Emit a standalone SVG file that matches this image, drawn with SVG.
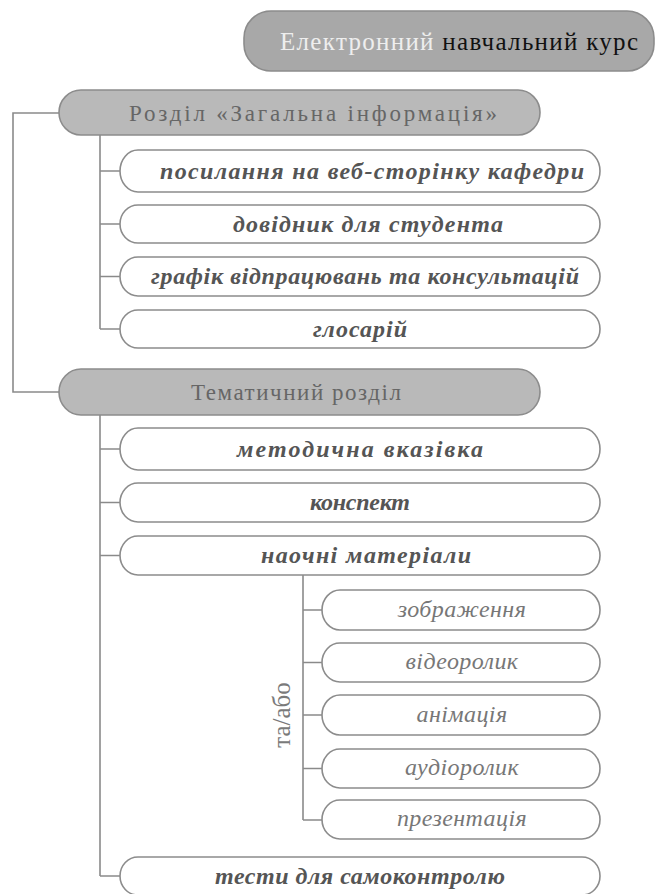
<svg xmlns="http://www.w3.org/2000/svg" width="659" height="894" viewBox="0 0 659 894">
<style>
.bg{fill:#ffffff}
.conn path{fill:none;stroke:#8a8a8a;stroke-width:1.6}
.gray rect{fill:#b9b9b9;stroke:#8c8c8c;stroke-width:1.6}
.title rect{fill:#a8a8a8;stroke:#8c8c8c;stroke-width:1.6}
.item rect{fill:#ffffff;stroke:#8c8c8c;stroke-width:1.6}
.sub rect{fill:#ffffff;stroke:#8c8c8c;stroke-width:1.6}
.ht{font-size:23px;fill:#666666;text-anchor:middle}
.it{font-size:24px;font-weight:bold;font-style:italic;fill:#555555;text-anchor:middle}
.st{font-size:24px;font-style:italic;fill:#777777;text-anchor:middle;letter-spacing:0.4px}
.tt{font-size:25px}
.lbl{font-size:25px;fill:#7a7a7a;text-anchor:middle}
</style>
<rect class="bg" x="0" y="0" width="659" height="894"/>
<g class="conn" id="connectors">
<path d="M59 113 H13 V392 H59"/>
<path d="M100 135 V329"/>
<path d="M100 171 H120 M100 224 H120 M100 276.5 H120 M100 329 H120"/>
<path d="M100 415 V876"/>
<path d="M100 449 H120 M100 502.5 H120 M100 555.5 H120 M100 876 H120"/>
<path d="M303 575 V820"/>
<path d="M303 610 H322 M303 662.5 H322 M303 715 H322 M303 768.5 H322 M303 820 H322"/>
</g>
<g id="n-title" class="title">
<rect x="244" y="11" width="410" height="60" rx="27" ry="27"/>
<text class="tt" font-family="Liberation Serif" x="280" y="50" textLength="358" lengthAdjust="spacing"><tspan fill="#eeeeee">Електронний</tspan><tspan fill="#111111"> навчальний курс</tspan></text>
</g>
<g id="n-section1" class="gray">
<rect x="59" y="90" width="481" height="45" rx="22" ry="22.5"/>
<text class="ht" font-family="Liberation Serif" x="313" y="121" textLength="368" lengthAdjust="spacing">Розділ «Загальна інформація»</text>
</g>
<g id="n-link" class="item">
<rect x="120" y="150" width="480" height="42" rx="18" ry="21"/>
<text class="it" font-family="Liberation Serif" x="372" y="179" textLength="424" lengthAdjust="spacing">посилання на веб-сторінку кафедри</text>
</g>
<g id="n-guide" class="item">
<rect x="120" y="205" width="480" height="38" rx="18" ry="19"/>
<text class="it" font-family="Liberation Serif" x="368" y="232" textLength="270" lengthAdjust="spacing">довідник для студента</text>
</g>
<g id="n-schedule" class="item">
<rect x="120" y="257" width="480" height="39" rx="18" ry="19.5"/>
<text class="it" font-family="Liberation Serif" x="365" y="284" textLength="428" lengthAdjust="spacing">графік відпрацювань та консультацій</text>
</g>
<g id="n-glossary" class="item">
<rect x="120" y="310" width="480" height="38" rx="18" ry="19"/>
<text class="it" font-family="Liberation Serif" x="360" y="337" textLength="94" lengthAdjust="spacing">глосарій</text>
</g>
<g id="n-section2" class="gray">
<rect x="59" y="369" width="481" height="46" rx="22" ry="23"/>
<text class="ht" font-family="Liberation Serif" x="296" y="400" textLength="210" lengthAdjust="spacing">Тематичний розділ</text>
</g>
<g id="n-method" class="item">
<rect x="120" y="428" width="480" height="42" rx="18" ry="21"/>
<text class="it" font-family="Liberation Serif" x="360" y="457" textLength="246" lengthAdjust="spacing">методична вказівка</text>
</g>
<g id="n-summary" class="item">
<rect x="120" y="483" width="480" height="39" rx="18" ry="19.5"/>
<text class="it" font-family="Liberation Serif" x="360" y="510" textLength="100" lengthAdjust="spacing">конспект</text>
</g>
<g id="n-visual" class="item">
<rect x="120" y="536" width="480" height="39" rx="18" ry="19.5"/>
<text class="it" font-family="Liberation Serif" x="366" y="563" textLength="210" lengthAdjust="spacing">наочні матеріали</text>
</g>
<g id="n-image" class="sub">
<rect x="322" y="590" width="278" height="40" rx="18" ry="20"/>
<text class="st" font-family="Liberation Serif" x="462" y="617">зображення</text>
</g>
<g id="n-video" class="sub">
<rect x="322" y="643" width="278" height="39" rx="18" ry="19.5"/>
<text class="st" font-family="Liberation Serif" x="462" y="669">відеоролик</text>
</g>
<g id="n-animation" class="sub">
<rect x="322" y="695" width="278" height="40" rx="18" ry="20"/>
<text class="st" font-family="Liberation Serif" x="462" y="722">анімація</text>
</g>
<g id="n-audio" class="sub">
<rect x="322" y="749" width="278" height="39" rx="18" ry="19.5"/>
<text class="st" font-family="Liberation Serif" x="462" y="775">аудіоролик</text>
</g>
<g id="n-presentation" class="sub">
<rect x="322" y="800" width="278" height="39" rx="18" ry="19.5"/>
<text class="st" font-family="Liberation Serif" x="462" y="826">презентація</text>
</g>
<g id="label-or">
<text class="lbl" font-family="Liberation Serif" x="0" y="0" transform="translate(290 715) rotate(-90)">та/або</text>
</g>
<g id="n-tests" class="item">
<rect x="120" y="857" width="480" height="38" rx="18" ry="19"/>
<text class="it" font-family="Liberation Serif" x="360" y="884" textLength="290" lengthAdjust="spacing">тести для самоконтролю</text>
</g>
</svg>
